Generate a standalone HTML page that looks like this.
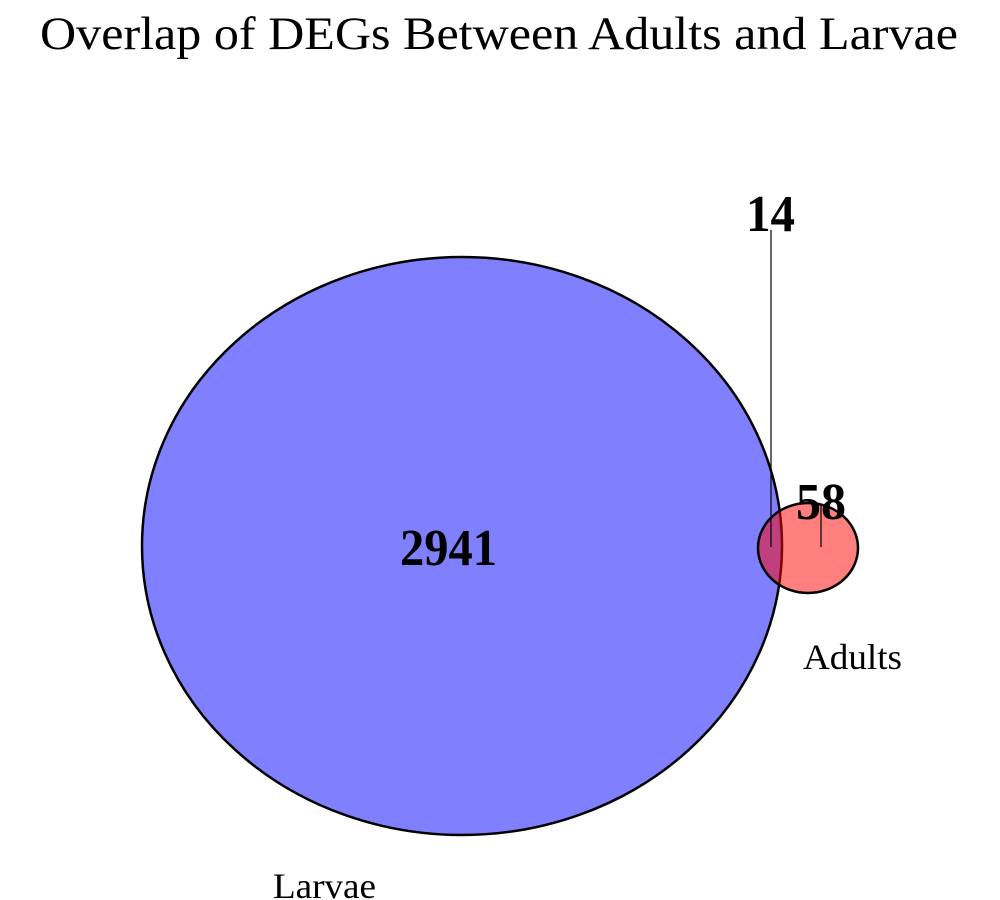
<!DOCTYPE html>
<html><head><meta charset="utf-8"><style>
html,body{margin:0;padding:0;background:#fff;}
svg{display:block;font-family:"Liberation Serif",serif;}
</style></head><body>
<svg width="1000" height="900" viewBox="0 0 1000 900">
<text x="40" y="49" font-size="47" textLength="918" lengthAdjust="spacingAndGlyphs">Overlap of DEGs Between Adults and Larvae</text>
<ellipse cx="462" cy="546" rx="320" ry="289" fill="#8080ff" stroke="#000" stroke-width="2.5"/>
<ellipse cx="808" cy="548" rx="50" ry="45" fill="rgba(255,0,0,0.5)" stroke="#000" stroke-width="2.5"/>
<line x1="771" y1="230" x2="771" y2="547" stroke="#000" stroke-width="1.2"/>
<line x1="821" y1="505" x2="821" y2="547" stroke="#000" stroke-width="1.2"/>
<text x="400" y="565" font-size="52" font-weight="bold" textLength="97" lengthAdjust="spacingAndGlyphs">2941</text>
<text x="746" y="231" font-size="52" font-weight="bold" textLength="49" lengthAdjust="spacingAndGlyphs">14</text>
<text x="796" y="519" font-size="52" font-weight="bold" textLength="50" lengthAdjust="spacingAndGlyphs">58</text>
<text x="803" y="669" font-size="36" textLength="99" lengthAdjust="spacingAndGlyphs">Adults</text>
<text x="273" y="898" font-size="36" textLength="103" lengthAdjust="spacingAndGlyphs">Larvae</text>
</svg>
</body></html>
